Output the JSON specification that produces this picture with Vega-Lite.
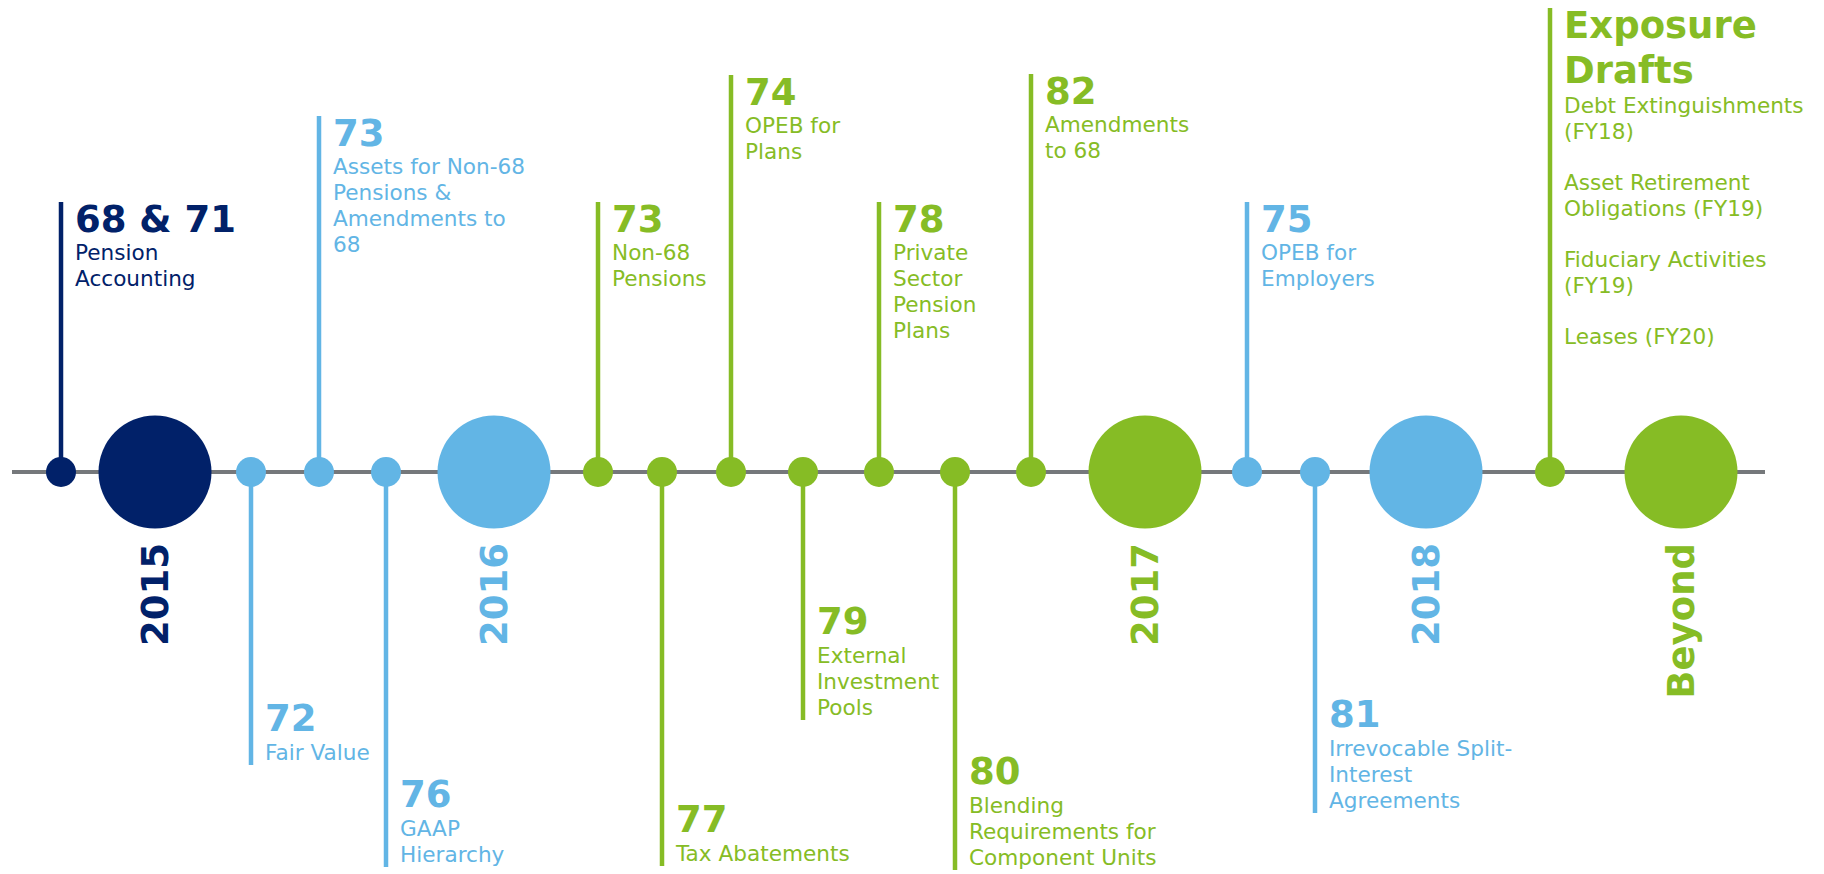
{
  "$schema": "https://vega.github.io/schema/vega-lite/v6.json",
  "width": 1824,
  "height": 874,
  "padding": 0,
  "autosize": {"type": "none"},
  "background": "white",
  "config": {"view": {"stroke": null}, "text": {"font": "DejaVu Sans"}},
  "datasets": {
    "track": [{"from": 12, "to": 1765, "level": 0}],
    "years": [
      {"pos": 155, "label": "2015", "grp": "navy"},
      {"pos": 494, "label": "2016", "grp": "blue"},
      {"pos": 1145, "label": "2017", "grp": "green"},
      {"pos": 1426, "label": "2018", "grp": "blue"},
      {"pos": 1681, "label": "Beyond", "grp": "green"}
    ],
    "items": [
      {"pos": 61, "stem": 270, "dir": "up", "kind": "std", "grp": "navy", "head": "68 & 71", "body": ["Pension", "Accounting"]},
      {"pos": 251, "stem": -293, "dir": "down", "kind": "std", "grp": "blue", "head": "72", "body": ["Fair Value"]},
      {"pos": 319, "stem": 356, "dir": "up", "kind": "std", "grp": "blue", "head": "73", "body": ["Assets for Non-68", "Pensions &", "Amendments to", "68"]},
      {"pos": 386, "stem": -395, "dir": "down", "kind": "std", "grp": "blue", "head": "76", "body": ["GAAP", "Hierarchy"]},
      {"pos": 598, "stem": 270, "dir": "up", "kind": "std", "grp": "green", "head": "73", "body": ["Non-68", "Pensions"]},
      {"pos": 662, "stem": -394, "dir": "down", "kind": "std", "grp": "green", "head": "77", "body": ["Tax Abatements"]},
      {"pos": 731, "stem": 397, "dir": "up", "kind": "std", "grp": "green", "head": "74", "body": ["OPEB for", "Plans"]},
      {"pos": 803, "stem": -248, "dir": "down", "kind": "std", "grp": "green", "head": "79", "body": ["External", "Investment", "Pools"]},
      {"pos": 879, "stem": 270, "dir": "up", "kind": "std", "grp": "green", "head": "78", "body": ["Private", "Sector", "Pension", "Plans"]},
      {"pos": 955, "stem": -398, "dir": "down", "kind": "std", "grp": "green", "head": "80", "body": ["Blending", "Requirements for", "Component Units"]},
      {"pos": 1031, "stem": 398, "dir": "up", "kind": "std", "grp": "green", "head": "82", "body": ["Amendments", "to 68"]},
      {"pos": 1247, "stem": 270, "dir": "up", "kind": "std", "grp": "blue", "head": "75", "body": ["OPEB for", "Employers"]},
      {"pos": 1315, "stem": -341, "dir": "down", "kind": "std", "grp": "blue", "head": "81", "body": ["Irrevocable Split-", "Interest", "Agreements"]},
      {"pos": 1550, "stem": 464, "dir": "up", "kind": "draft", "grp": "green", "head": ["Exposure", "Drafts"], "body": []}
    ],
    "drafts": [
      {"pos": 1550, "stem": 464, "order": 0, "grp": "green", "entry": ["Debt Extinguishments", "(FY18)"]},
      {"pos": 1550, "stem": 464, "order": 1, "grp": "green", "entry": ["Asset Retirement", "Obligations (FY19)"]},
      {"pos": 1550, "stem": 464, "order": 2, "grp": "green", "entry": ["Fiduciary Activities", "(FY19)"]},
      {"pos": 1550, "stem": 464, "order": 3, "grp": "green", "entry": ["Leases (FY20)"]}
    ]
  },
  "layer": [
    {
      "data": {"name": "track"},
      "mark": {"type": "rule", "color": "#75787B", "strokeWidth": 4},
      "encoding": {
        "x": {"field": "from", "type": "quantitative", "scale": {"domain": [0, 1824], "nice": false, "zero": false}, "axis": null},
        "x2": {"field": "to"},
        "y": {"field": "level", "type": "quantitative", "scale": {"domain": [-402, 472], "nice": false, "zero": false}, "axis": null}
      }
    },
    {
      "data": {"name": "items"},
      "mark": {"type": "rule", "strokeWidth": 4.5},
      "encoding": {
        "x": {"field": "pos", "type": "quantitative", "scale": {"domain": [0, 1824], "nice": false, "zero": false}, "axis": null},
        "y": {"field": "stem", "type": "quantitative", "scale": {"domain": [-402, 472], "nice": false, "zero": false}, "axis": null},
        "y2": {"datum": 0},
        "color": {"field": "grp", "type": "nominal", "scale": {"domain": ["navy", "blue", "green"], "range": ["#012169", "#62B5E5", "#86BC25"]}, "legend": null}
      }
    },
    {
      "data": {"name": "items"},
      "mark": {"type": "circle", "size": 900, "opacity": 1},
      "encoding": {
        "x": {"field": "pos", "type": "quantitative", "scale": {"domain": [0, 1824], "nice": false, "zero": false}, "axis": null},
        "y": {"datum": 0, "type": "quantitative", "scale": {"domain": [-402, 472], "nice": false, "zero": false}, "axis": null},
        "color": {"field": "grp", "type": "nominal", "scale": {"domain": ["navy", "blue", "green"], "range": ["#012169", "#62B5E5", "#86BC25"]}, "legend": null}
      }
    },
    {
      "data": {"name": "years"},
      "mark": {"type": "circle", "size": 12769, "opacity": 1},
      "encoding": {
        "x": {"field": "pos", "type": "quantitative", "scale": {"domain": [0, 1824], "nice": false, "zero": false}, "axis": null},
        "y": {"datum": 0, "type": "quantitative", "scale": {"domain": [-402, 472], "nice": false, "zero": false}, "axis": null},
        "color": {"field": "grp", "type": "nominal", "scale": {"domain": ["navy", "blue", "green"], "range": ["#012169", "#62B5E5", "#86BC25"]}, "legend": null}
      }
    },
    {
      "data": {"name": "years"},
      "mark": {"type": "text", "angle": 270, "align": "right", "baseline": "middle", "dy": 2, "fontSize": 37, "fontWeight": "bold"},
      "encoding": {
        "x": {"field": "pos", "type": "quantitative", "scale": {"domain": [0, 1824], "nice": false, "zero": false}, "axis": null},
        "y": {"datum": -71, "type": "quantitative", "scale": {"domain": [-402, 472], "nice": false, "zero": false}, "axis": null},
        "text": {"field": "label", "type": "nominal"},
        "color": {"field": "grp", "type": "nominal", "scale": {"domain": ["navy", "blue", "green"], "range": ["#012169", "#62B5E5", "#86BC25"]}, "legend": null}
      }
    },
    {
      "data": {"name": "items"},
      "transform": [{"filter": "datum.dir == 'up'"}],
      "mark": {"type": "text", "align": "left", "baseline": "top", "dx": 14, "dy": 1, "fontSize": 37, "fontWeight": "bold", "lineHeight": 45},
      "encoding": {
        "x": {"field": "pos", "type": "quantitative", "scale": {"domain": [0, 1824], "nice": false, "zero": false}, "axis": null},
        "y": {"field": "stem", "type": "quantitative", "scale": {"domain": [-402, 472], "nice": false, "zero": false}, "axis": null},
        "text": {"field": "head", "type": "nominal"},
        "color": {"field": "grp", "type": "nominal", "scale": {"domain": ["navy", "blue", "green"], "range": ["#012169", "#62B5E5", "#86BC25"]}, "legend": null}
      }
    },
    {
      "data": {"name": "items"},
      "transform": [{"filter": "datum.dir == 'up' && datum.kind == 'std'"}],
      "mark": {"type": "text", "align": "left", "baseline": "top", "dx": 14, "dy": 41, "fontSize": 21.6, "lineHeight": 26},
      "encoding": {
        "x": {"field": "pos", "type": "quantitative", "scale": {"domain": [0, 1824], "nice": false, "zero": false}, "axis": null},
        "y": {"field": "stem", "type": "quantitative", "scale": {"domain": [-402, 472], "nice": false, "zero": false}, "axis": null},
        "text": {"field": "body", "type": "nominal"},
        "color": {"field": "grp", "type": "nominal", "scale": {"domain": ["navy", "blue", "green"], "range": ["#012169", "#62B5E5", "#86BC25"]}, "legend": null}
      }
    },
    {
      "data": {"name": "drafts"},
      "mark": {"type": "text", "align": "left", "baseline": "top", "dx": 14, "dy": {"expr": "88 + datum.order * 77"}, "fontSize": 21.6, "lineHeight": 25.7},
      "encoding": {
        "x": {"field": "pos", "type": "quantitative", "scale": {"domain": [0, 1824], "nice": false, "zero": false}, "axis": null},
        "y": {"field": "stem", "type": "quantitative", "scale": {"domain": [-402, 472], "nice": false, "zero": false}, "axis": null},
        "text": {"field": "entry", "type": "nominal"},
        "color": {"field": "grp", "type": "nominal", "scale": {"domain": ["navy", "blue", "green"], "range": ["#012169", "#62B5E5", "#86BC25"]}, "legend": null}
      }
    },
    {
      "data": {"name": "items"},
      "transform": [{"filter": "datum.dir == 'down'"}],
      "mark": {"type": "text", "align": "left", "baseline": "alphabetic", "dx": 14, "dy": {"expr": "-34 - (length(datum.body) - 1) * 26"}, "fontSize": 37, "fontWeight": "bold"},
      "encoding": {
        "x": {"field": "pos", "type": "quantitative", "scale": {"domain": [0, 1824], "nice": false, "zero": false}, "axis": null},
        "y": {"field": "stem", "type": "quantitative", "scale": {"domain": [-402, 472], "nice": false, "zero": false}, "axis": null},
        "text": {"field": "head", "type": "nominal"},
        "color": {"field": "grp", "type": "nominal", "scale": {"domain": ["navy", "blue", "green"], "range": ["#012169", "#62B5E5", "#86BC25"]}, "legend": null}
      }
    },
    {
      "data": {"name": "items"},
      "transform": [{"filter": "datum.dir == 'down'"}],
      "mark": {"type": "text", "align": "left", "baseline": "alphabetic", "dx": 14, "dy": {"expr": "-5 - (length(datum.body) - 1) * 26"}, "fontSize": 21.6, "lineHeight": 26},
      "encoding": {
        "x": {"field": "pos", "type": "quantitative", "scale": {"domain": [0, 1824], "nice": false, "zero": false}, "axis": null},
        "y": {"field": "stem", "type": "quantitative", "scale": {"domain": [-402, 472], "nice": false, "zero": false}, "axis": null},
        "text": {"field": "body", "type": "nominal"},
        "color": {"field": "grp", "type": "nominal", "scale": {"domain": ["navy", "blue", "green"], "range": ["#012169", "#62B5E5", "#86BC25"]}, "legend": null}
      }
    }
  ]
}
